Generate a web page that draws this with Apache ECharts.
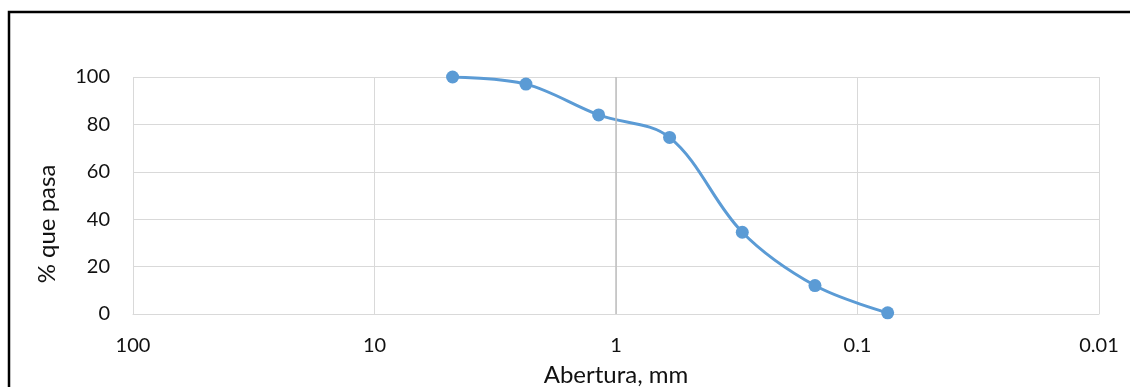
<!DOCTYPE html>
<html>
<head>
<meta charset="utf-8">
<script src="https://cdn.jsdelivr.net/npm/echarts@6/dist/echarts.min.js"></script>
<style>
  html, body { margin: 0; padding: 0; background: #fff; }
  #chart { width: 1130px; height: 387px; }
</style>
</head>
<body>
<div id="chart"></div>
<script>
// aberturas de tamiz (mm) y porcentaje que pasa
var aberturas = [4.75, 2.36, 1.18, 0.6, 0.3, 0.15, 0.075];
var pasa = [100, 97, 84, 74.5, 34.5, 12, 0.5];
var xTicks = ['100', '10', '1', '0.1', '0.01'];

var chart = echarts.init(document.getElementById('chart'));

var puntos = aberturas.map(function (a, i) { return [a, pasa[i]]; });

var option = {
  animation: false,
  textStyle: { fontFamily: 'Lato, "Open Sans", sans-serif' },
  graphic: [{
    type: 'rect',
    shape: { x: 9, y: 12, width: 1200, height: 500 },
    style: { fill: 'none', stroke: '#000', lineWidth: 2.5 }
  }, {
    // titulo del eje vertical (algo desplazado hacia abajo como en el original)
    type: 'text',
    x: 47,
    y: 224,
    rotation: Math.PI / 2,
    style: {
      text: '% que pasa',
      font: '24px Lato, "Open Sans", sans-serif',
      fill: '#111',
      align: 'center',
      verticalAlign: 'middle'
    }
  }],
  grid: { left: 133, right: 31, top: 77, bottom: 73, outerBoundsMode: 'none' },
  xAxis: {
    type: 'log',
    logBase: 10,
    min: 0.01,
    max: 100,
    inverse: true,
    name: 'Abertura, mm',
    nameLocation: 'middle',
    nameGap: 49,
    nameTextStyle: { fontSize: 24, color: '#111' },
    axisLine: { show: true, lineStyle: { color: '#d9d9d9', width: 1 } },
    axisTick: { show: false },
    axisLabel: {
      fontSize: 20, color: '#111', margin: 22,
      formatter: function (v) {
        var k = Math.round(Math.log10(v));
        return xTicks[2 - k];
      }
    },
    splitLine: { show: true, lineStyle: { color: '#d9d9d9', width: 1 } }
  },
  yAxis: {
    type: 'value',
    min: 0,
    max: 100,
    interval: 20,
    axisLine: { show: false },
    axisTick: { show: false },
    axisLabel: { fontSize: 20, color: '#111', margin: 23 },
    splitLine: { lineStyle: { color: '#d9d9d9', width: 1 } }
  },
  series: [{
    type: 'line',
    data: puntos,
    smooth: 0.35,
    symbol: 'circle',
    symbolSize: 13,
    lineStyle: { color: '#5b9bd5', width: 3 },
    itemStyle: { color: '#5b9bd5' },
    markLine: {
      silent: true,
      symbol: 'none',
      label: { show: false },
      lineStyle: { color: '#bfbfbf', width: 1.5, type: 'solid' },
      data: [{ xAxis: 1 }]
    }
  }]
};

chart.setOption(option);
</script>
</body>
</html>
